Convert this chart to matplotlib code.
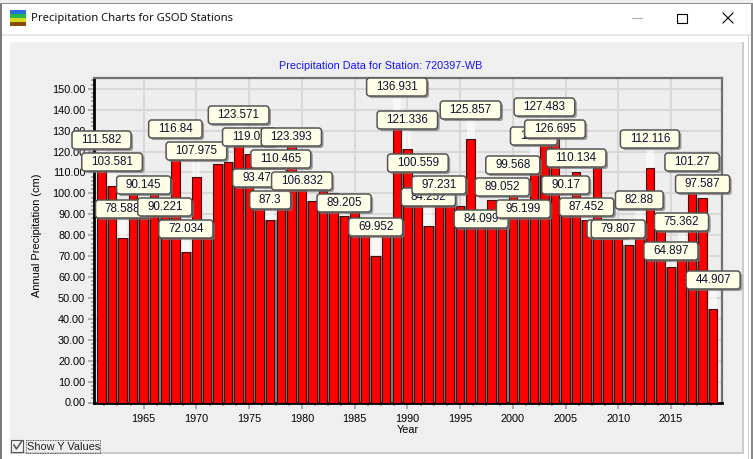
import matplotlib
matplotlib.use("Agg")
import matplotlib.pyplot as plt
import matplotlib.patheffects as pe
from matplotlib.patches import BoxStyle, Rectangle
from matplotlib.ticker import MultipleLocator, FormatStrFormatter

plt.rcParams['font.family'] = ['Liberation Sans', 'DejaVu Sans']

years = list(range(1961, 2020))
values = [111.582, 103.581, 78.588, 100.5, 90.145, 100.5, 90.221, 116.84, 72.034, 107.975,
          84.0, 114.0, 115.0, 123.571, 119.07, 93.472, 87.3, 110.465, 123.393, 106.832,
          96.6, 101.0, 100.0, 89.205, 91.0, 84.0, 69.952, 85.0, 136.931, 121.336,
          100.559, 84.252, 97.231, 100.0, 94.2, 125.857, 84.099, 97.0, 89.052, 99.568,
          95.199, 115.8, 127.483, 126.695, 90.17, 110.134, 87.452, 112.0, 82.0, 79.807,
          75.4, 82.88, 112.116, 85.0, 64.897, 75.362, 101.27, 97.587, 44.907]
y_ticks_step = 10
x_ticks_step = 5
title = "Precipitation Data for Station: 720397-WB"
window_title = "Precipitation Charts for GSOD Stations"
xlabel = "Year"
ylabel = "Annual Precipitation (cm)"
checkbox_label = "Show Y Values"

# Layout only: vertical centre (image pixels from the top) of each visible call-out
callout_y_px = {
    1961: 140, 1962: 162, 1963: 209, 1965: 185, 1967: 207, 1968: 129, 1969: 229, 1970: 151,
    1974: 115, 1975: 137, 1976: 178, 1977: 200, 1978: 159, 1979: 137, 1980: 181, 1984: 203,
    1987: 227, 1989: 87, 1990: 120, 1991: 163, 1992: 197, 1993: 185, 1996: 110, 1997: 219,
    1999: 187, 2000: 165, 2001: 209, 2002: 136, 2003: 107, 2004: 129, 2005: 185, 2006: 158,
    2007: 207, 2009: 229, 2010: 229, 2012: 200, 2013: 139, 2015: 251, 2016: 222, 2017: 162,
    2018: 184, 2019: 280,
}

W, H = 753, 459
fig = plt.figure(figsize=(W / 100, H / 100), dpi=100, facecolor='white')

# window chrome, in image pixels
bg = fig.add_axes([0, 0, 1, 1], zorder=-5)
bg.set_xlim(0, W); bg.set_ylim(H, 0); bg.axis('off')
def rect(x, y, w, h, c, **k):
    bg.add_patch(Rectangle((x, y), w, h, fc=c, ec='none', **k))
rect(0, 0, W, 3, '#f0f0f0')
rect(0, 3, W, 1, '#8a8a8a')
rect(0, 4, 2, H - 4, '#7a7a7a')
rect(751, 3, 2, H - 3, '#8a8a8a')
rect(2, 34, 749, 2, '#e6e6e6')
rect(10, 42, 732, 410, '#efefef')
rect(742, 42, 2, 412, '#cccccc')
rect(10, 452, 734, 2, '#cccccc')
rect(748, 36, 1, H - 36, '#d0d0d0')
rect(10, 10, 16, 4, '#2a6fe0')
rect(10, 14, 16, 4, '#22b84a')
rect(10, 18, 16, 4, '#d8d820')
rect(10, 22, 16, 4, '#8a4a08')
bg.text(31, 19, window_title, family='Noto Sans', fontsize=8.05, va='center', ha='left', color='#101010')
bg.plot([632, 642], [18, 18], color='#b0b0b0', lw=0.8)
bg.add_patch(Rectangle((677.5, 13.5), 9.5, 9.5, fc='none', ec='black', lw=0.8))
bg.plot([723, 733], [13, 23], color='black', lw=0.8)
bg.plot([723, 733], [23, 13], color='black', lw=0.8)
bg.add_patch(Rectangle((11.5, 439.5), 12, 12, fc='#f4f4f4', ec='#555555', lw=0.8))
bg.plot([14, 16.5, 21.5], [445, 449, 441.5], color='#555555', lw=1.1)
bg.add_patch(Rectangle((26, 440), 74, 12.5, fc='none', ec='#333333', lw=0.6, ls=(0, (1, 1))))
bg.text(27.5, 446.5, checkbox_label, fontsize=7.9, va='center', ha='left', color='#202020')

# plot area
L, R, T, B = 93.5, 722.0, 78.0, 402.5
ax = fig.add_axes([L / W, 1 - B / H, (R - L) / W, (B - T) / H], facecolor='#eeeeee')
ax.set_xlim(1960.24, 2019.84)
ax.set_ylim(0, (B - T) / 2.091)
ax.set_axisbelow(True)
ax.xaxis.set_major_locator(MultipleLocator(x_ticks_step))
ax.xaxis.set_minor_locator(MultipleLocator(x_ticks_step / 4))
ax.yaxis.set_major_locator(MultipleLocator(y_ticks_step))
ax.yaxis.set_minor_locator(MultipleLocator(2))
ax.yaxis.set_major_formatter(FormatStrFormatter('%.2f'))
ax.grid(True, which='major', color='#d8d8d8', lw=1.5)
ax.tick_params(axis='both', which='major', length=4, width=1.3, color='#a8a8a8', labelsize=7.8, pad=2)
ax.tick_params(axis='both', which='minor', length=2, width=1.3, color='#a8a8a8')
ax.tick_params(axis='x', which='major', pad=4)
for s, c, w in (('left', 'black', 2.0), ('bottom', 'black', 2.0), ('top', '#707070', 1.6), ('right', '#707070', 1.6)):
    ax.spines[s].set_color(c); ax.spines[s].set_linewidth(w)
ax.text((381 - L) / (R - L), (B - 66) / (B - T), title, transform=ax.transAxes, color='#1414ff',
        fontsize=7.85, ha='center', va='center')
ax.text((408 - L) / (R - L), (B - 430) / (B - T), xlabel, transform=ax.transAxes,
        fontsize=7.8, ha='center', va='center')
ax.text((37 - L) / (R - L), (B - 235) / (B - T), ylabel, transform=ax.transAxes, rotation=90,
        fontsize=7.95, ha='center', va='center')

# grey gaps between neighbouring bars
gap_h = [min(a, b) for a, b in zip(values[:-1], values[1:])]
ax.bar([y + 0.5 for y in years[:-1]], gap_h, width=0.4, color='#808080', zorder=2)

# pale connectors from each bar to its call-out
inv = ax.transData.inverted()
def px_to_y(py):
    return inv.transform((0, H - py))[1]
for yr, v in zip(years, values):
    if yr in callout_y_px:
        ax.plot([yr, yr], [v, px_to_y(callout_y_px[yr])], color='white', alpha=0.6, lw=5.5,
                solid_capstyle='butt', zorder=2.5)

ax.bar(years, values, width=0.8, color='#ff0000', edgecolor='#3a1010', linewidth=0.8, zorder=3)

def callout_box(x0, y0, w, h, mutation_size):
    padx, box_h = 9.3, 18.0
    cy = y0 + h / 2
    return BoxStyle.Round(pad=0, rounding_size=3)(x0 - padx, cy - box_h / 2, w + 2 * padx, box_h, 1)

for i, (yr, v) in enumerate(zip(years, values)):
    if yr not in callout_y_px:
        continue
    a = ax.annotate(str(v), xy=(yr, H - callout_y_px[yr]), xycoords=('data', 'figure pixels'),
                    ha='center', va='center', fontsize=8.35, color='#101030', zorder=10 + i,
                    annotation_clip=False,
                    bbox=dict(boxstyle=callout_box, fc='#ffffe8', ec='#555555', lw=1.1))
    a.get_bbox_patch().set_path_effects([
        pe.SimplePatchShadow(offset=(1.5, -1.5), shadow_rgbFace='#777777', alpha=0.7), pe.Normal()])

fig.savefig('out.png', dpi=100, facecolor='white')
